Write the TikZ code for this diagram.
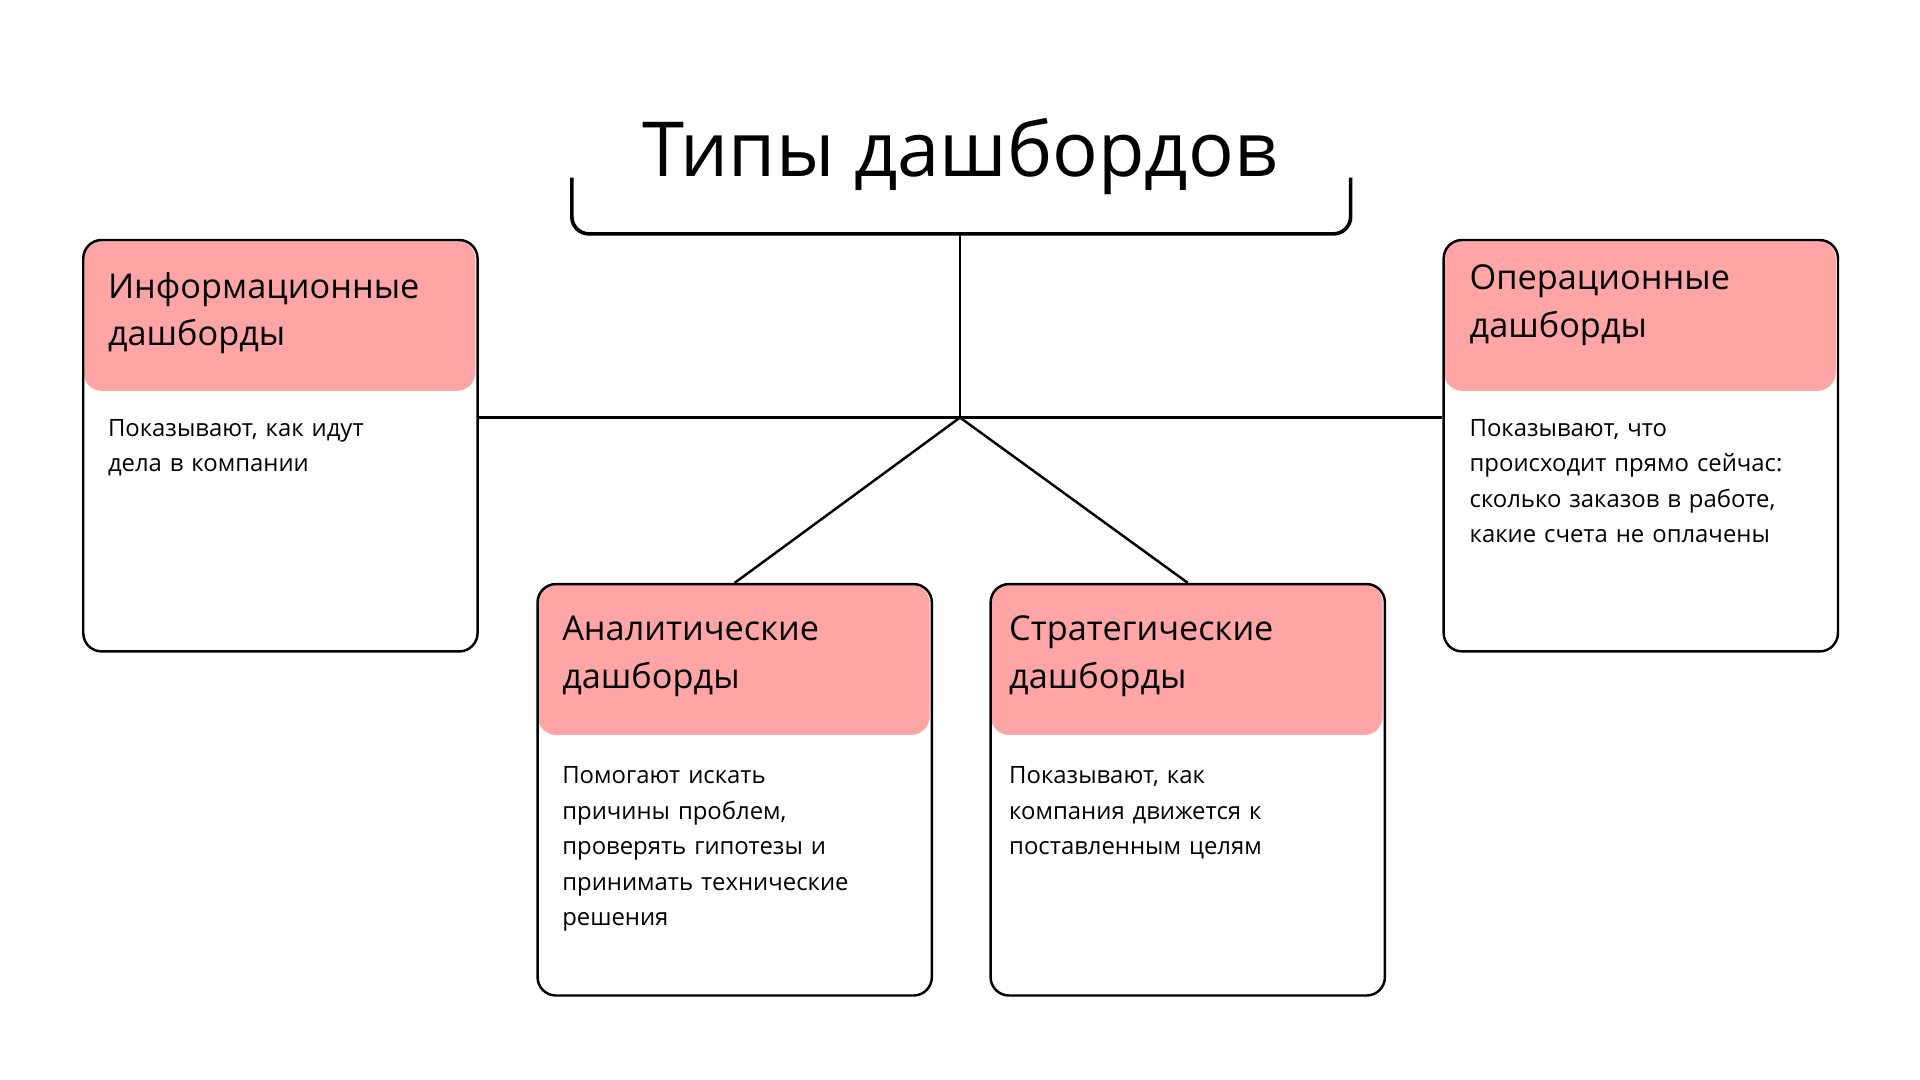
\documentclass[tikz,border=0pt]{standalone}
\usepackage{fontspec}
\setmainfont{Open Sans}
\definecolor{pinkh}{HTML}{FFA5A5}
\begin{document}
\begin{tikzpicture}[x=1pt,y=-1pt,
  box/.style={draw=black,line width=2pt,rounded corners=15pt,minimum width=322pt,minimum height=336pt,anchor=north west},
  hdr/.style={fill=pinkh,rounded corners=15pt,minimum width=320pt,minimum height=123pt,anchor=north west},
  htxt/.style={anchor=north west,font=\fontsize{28}{39}\selectfont,text width=300pt,inner sep=0pt,align=left},
  btxt/.style={anchor=north west,font=\fontsize{19.5}{29}\selectfont,text width=290pt,inner sep=0pt,align=left},
  conn/.style={line width=2pt}]
\useasboundingbox (0,0) rectangle (1568,882);
\fill[white] (0,0) rectangle (1568,882);
% boxes
\foreach \n/\x/\y in {b1/67/195,b2/438/476,b3/808/476,b4/1178/195}{
  \node[hdr] (\n h) at (\x+1,\y+1) {};
  \node[box] (\n) at (\x,\y) {};
}
\node[htxt] (t1) at (88,222) {Информационные\\дашборды};
\node[btxt] (d1) at (88,342) {Показывают, как идут\\дела в компании};
\node[htxt] (t4) at (1200,216) {Операционные\\дашборды};
\node[btxt] (d4) at (1200,342) {Показывают, что\\происходит прямо сейчас:\\сколько заказов в работе,\\какие счета не оплачены};
\node[htxt] (t2) at (459,503) {Аналитические\\дашборды};
\node[btxt] (d2) at (459,626) {Помогают искать\\причины проблем,\\проверять гипотезы и\\принимать технические\\решения};
\node[htxt] (t3) at (824,503) {Стратегические\\дашборды};
\node[btxt] (d3) at (824,626) {Показывают, как\\компания движется к\\поставленным целям};
% title and bracket
\node[font=\fontsize{62}{70}\selectfont,inner sep=0pt] (title) at (784,128) {Типы дашбордов};
\coordinate (bl) at (467,145);
\coordinate (br) at (1103,145);
\coordinate (bm) at (784,191);
\draw[line width=3pt,rounded corners=14pt] (bl) -- (467,191) -- (1103,191) -- (br);
\coordinate (hub) at (784,341);
\draw[conn] (bm) -- (hub);
\draw[conn] (b1.east |- hub) -- (b4.west |- hub);
\draw[conn] (hub) -- (b2.north);
\draw[conn] (hub) -- (b3.north);
\end{tikzpicture}
\end{document}
